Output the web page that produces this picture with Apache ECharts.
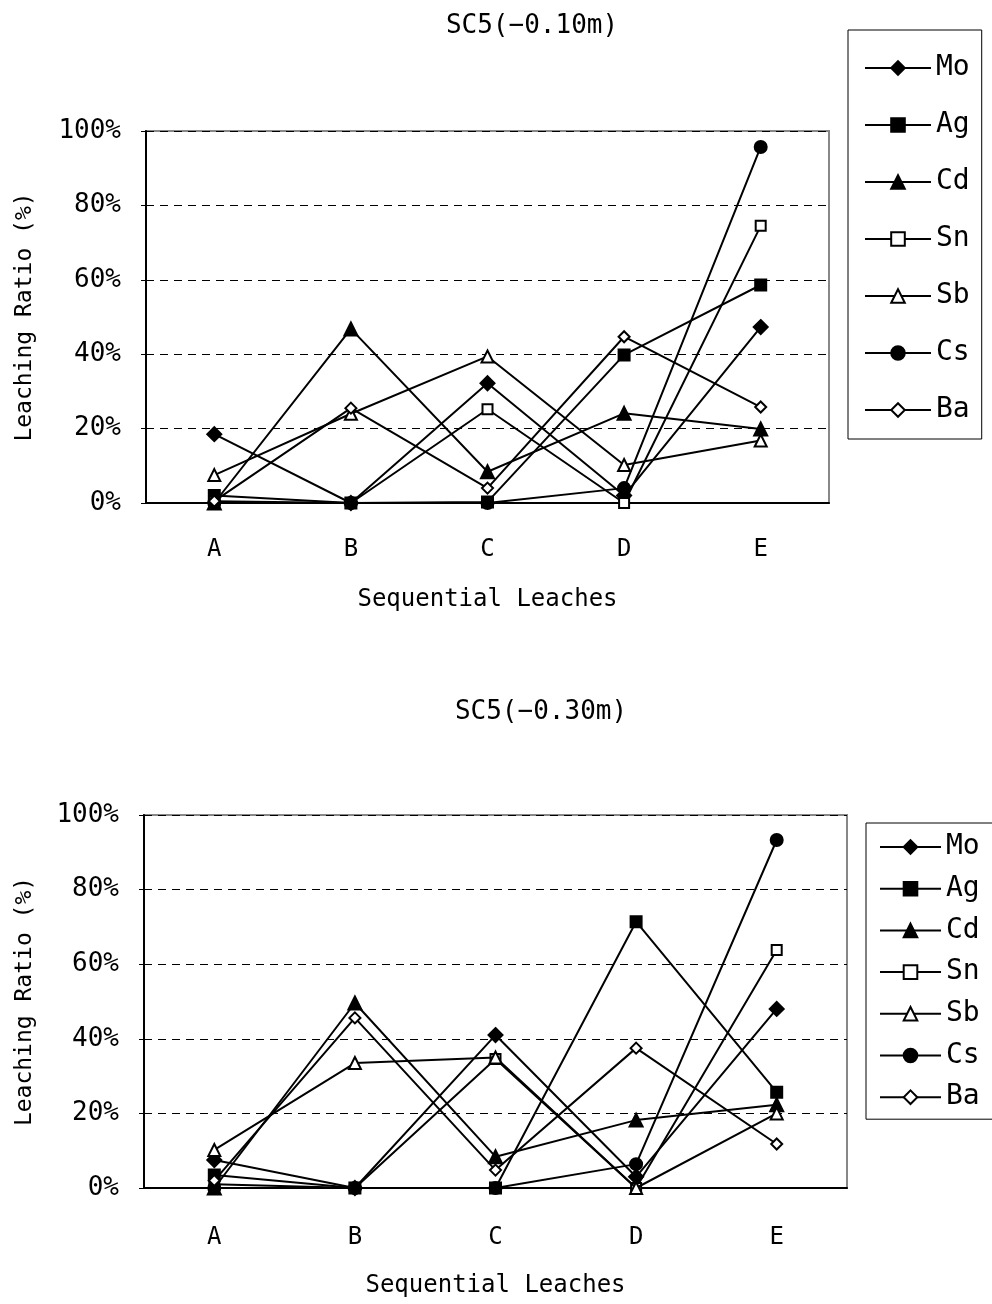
<!DOCTYPE html>
<html>
<head>
<meta charset="utf-8">
<script src="https://cdn.jsdelivr.net/npm/echarts@6/dist/echarts.min.js"></script>
<style>
  html, body { margin: 0; padding: 0; background: #fff; }
  #main { width: 992px; height: 1304px; }
</style>
</head>
<body>
<div id="main"></div>
<script>
// leach steps and elements
var leaches = ['A', 'B', 'C', 'D', 'E'];
var elements = ['Mo', 'Ag', 'Cd', 'Sn', 'Sb', 'Cs', 'Ba'];
var yTicks = [0, 20, 40, 60, 80, 100];

// SC5(-0.10m), leaching ratio in %
var top_Mo = [18.5, 0, 32.2, 2, 47.3];
var top_Ag = [2, 0, 0.3, 39.8, 58.6];
var top_Cd = [0, 46.8, 8.4, 24.1, 19.9];
var top_Sn = [0.5, 0, 25.2, 0, 74.5];
var top_Sb = [7.5, 24, 39.4, 10.2, 16.8];
var top_Cs = [0, 0, 0, 4, 95.7];
var top_Ba = [0.5, 25.5, 4, 44.7, 25.8];

// SC5(-0.30m)
var bot_Mo = [7.5, 0, 41, 3, 48];
var bot_Ag = [3.5, 0, 0, 71.4, 25.7];
var bot_Cd = [0, 49.6, 8.4, 18.2, 22.3];
var bot_Sn = [1, 0, 34.6, 0, 63.8];
var bot_Sb = [10.2, 33.5, 35, 0, 20];
var bot_Cs = [0, 0, 0, 6.4, 93.3];
var bot_Ba = [2, 45.6, 4.8, 37.5, 11.8];

var topData = [top_Mo, top_Ag, top_Cd, top_Sn, top_Sb, top_Cs, top_Ba];
var botData = [bot_Mo, bot_Ag, bot_Cd, bot_Sn, bot_Sb, bot_Cs, bot_Ba];

var symbols = ['diamond', 'rect', 'triangle', 'emptyRect', 'emptyTriangle', 'circle', 'emptyDiamond'];
var symSizes = [14, 11, 13, 10, 12, 12, 11];

var font = '"DejaVu Sans Mono", "Liberation Mono", monospace';

function makeSeries(data, idx) {
  return data.map(function (vals, i) {
    return {
      name: elements[i],
      type: 'line',
      xAxisIndex: idx,
      yAxisIndex: idx,
      data: vals,
      symbol: symbols[i],
      symbolSize: symSizes[i],
      showAllSymbol: true,
      lineStyle: { color: '#000', width: 2 },
      itemStyle: { color: '#000', borderColor: '#000', borderWidth: 2 },
      emphasis: { disabled: true },
      z: 2 + i
    };
  });
}

function xAxisFor(idx, margin, gap) {
  return {
    type: 'category',
    gridIndex: idx,
    data: leaches,
    boundaryGap: true,
    axisLine: { lineStyle: { color: '#000', width: 2 } },
    axisTick: { inside: true, length: 6, lineStyle: { color: '#555' } },
    axisLabel: { color: '#000', fontSize: 24, margin: margin, fontFamily: font },
    name: 'Sequential Leaches',
    nameLocation: 'middle',
    nameGap: gap,
    nameTextStyle: { color: '#000', fontSize: 24, fontFamily: font }
  };
}

function yAxisFor(idx, gap) {
  return {
    type: 'value',
    gridIndex: idx,
    min: yTicks[0],
    max: yTicks[yTicks.length - 1],
    interval: 20,
    axisLine: { show: true, lineStyle: { color: '#000', width: 2 } },
    axisTick: { show: true, length: 5, lineStyle: { color: '#000' } },
    splitLine: { show: true, lineStyle: { color: '#000', type: [8, 6], width: 1 } },
    axisLabel: { color: '#000', fontSize: 26, margin: 25, padding: [6, 0, 0, 0], fontFamily: font, formatter: '{value}%' },
    name: 'Leaching Ratio (%)',
    nameLocation: 'middle',
    nameGap: gap,
    nameTextStyle: { color: '#000', fontSize: 23, fontFamily: font }
  };
}

var chart = echarts.init(document.getElementById('main'), null, { renderer: 'canvas' });

var option = {
  backgroundColor: '#fff',
  animation: false,
  title: [
    { text: 'SC5(−0.10m)', left: 527, top: 8, textAlign: 'center',
      textStyle: { fontSize: 26, fontWeight: 'normal', color: '#000', fontFamily: font } },
    { text: 'SC5(−0.30m)', left: 536, top: 694, textAlign: 'center',
      textStyle: { fontSize: 26, fontWeight: 'normal', color: '#000', fontFamily: font } }
  ],
  legend: [
    {
      data: elements,
      orient: 'vertical',
      left: 848, top: 30,
      itemWidth: 66, itemHeight: 17, itemGap: 29,
      padding: [24, 12, 15, 16],
      borderColor: '#000', borderWidth: 1,
      selectedMode: false,
      textStyle: { fontSize: 28, color: '#000', fontFamily: font }
    },
    {
      data: elements,
      orient: 'vertical',
      left: 866, top: 823,
      itemWidth: 61, itemHeight: 17, itemGap: 13.7,
      padding: [10, 30, 8, 13],
      borderColor: '#000', borderWidth: 1,
      selectedMode: false,
      textStyle: { fontSize: 28, color: '#000', fontFamily: font }
    }
  ],
  grid: [
    { left: 146, top: 131, width: 683, height: 372, show: true, borderColor: '#888', borderWidth: 2, backgroundColor: 'transparent' },
    { left: 144, top: 815, width: 703, height: 373, show: true, borderColor: '#888', borderWidth: 2, backgroundColor: 'transparent' }
  ],
  xAxis: [xAxisFor(0, 35, 85), xAxisFor(1, 38, 86)],
  yAxis: [yAxisFor(0, 109), yAxisFor(1, 107)],
  series: makeSeries(topData, 0).concat(makeSeries(botData, 1))
};

chart.setOption(option);
</script>
</body>
</html>
